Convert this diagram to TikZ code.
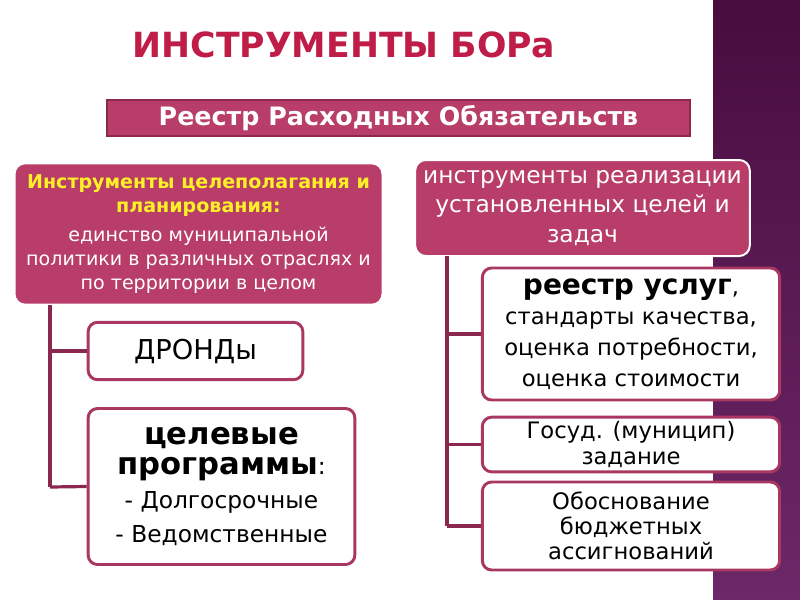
\documentclass[tikz,border=0pt]{standalone}
\usepackage{fontspec}
\setmainfont{DejaVu Sans}
\begin{document}
\begin{tikzpicture}[x=0.75pt,y=-0.75pt,
  mainbox/.style={draw=white,line width=1.5pt,fill=boxc,rounded corners=8pt,text=white,align=center,inner sep=0pt},
  childbox/.style={draw=borderc,line width=2.2pt,fill=white,rounded corners=7pt,align=center,inner sep=0pt},
  conn/.style={draw=linec,line width=2.4pt}]
\definecolor{boxc}{RGB}{184,61,104}
\definecolor{borderc}{RGB}{168,55,98}
\definecolor{linec}{RGB}{138,40,80}
\definecolor{titlec}{RGB}{192,28,72}
\definecolor{headc}{RGB}{255,240,40}
\definecolor{stripTop}{RGB}{72,12,62}
\definecolor{stripBot}{RGB}{108,40,104}
\useasboundingbox (0,0) rectangle (800,600);
\fill[white] (0,0) rectangle (800,600);
\shade[top color=stripTop,bottom color=stripBot] (713,0) rectangle (800,600);
\node[text=titlec,font=\bfseries\fontsize{26}{30}\selectfont] (title) at (344,45) {ИНСТРУМЕНТЫ БОРа};
\node[draw=linec,line width=1.5pt,fill=boxc,text=white,font=\bfseries\fontsize{19}{22}\selectfont,minimum width=437pt,minimum height=27pt,inner sep=0pt] (reg) at (398.5,118) {Реестр Расходных Обязательств};
\node[mainbox,minimum width=276pt,minimum height=106pt] (L) at (198.5,234) {};
\node[text=white,align=center,font=\fontsize{14.3}{18}\selectfont] (Ltext) at (198.5,234) {{\color{headc}\bfseries Инструменты целеполагания и}\\{\color{headc}\bfseries планирования:}\\[4pt]единство муниципальной\\политики в различных отраслях и\\по территории в целом};
\node[mainbox,minimum width=251pt,minimum height=72pt,font=\fontsize{17.5}{22}\selectfont] (R) at (582.5,208) {инструменты реализации\\установленных целей и\\задач};
\node[childbox,minimum width=161pt,minimum height=43pt,font=\fontsize{20.5}{24}\selectfont] (D) at (195.5,351) {ДРОНДы};
\node[childbox,minimum width=200pt,minimum height=117pt,font=\fontsize{17.5}{22}\selectfont] (P) at (221.5,486.5) {{\bfseries\fontsize{23}{27}\selectfont целевые}\\{\bfseries\fontsize{23}{27}\selectfont программы}:\\[4pt]- Долгосрочные\\[3pt]- Ведомственные};
\node[childbox,minimum width=223pt,minimum height=99pt,font=\fontsize{17}{23}\selectfont] (S) at (631,334) {{\bfseries\fontsize{21}{23}\selectfont реестр услуг},\\стандарты качества,\\оценка потребности,\\оценка стоимости};
\node[childbox,minimum width=223pt,minimum height=41pt,font=\fontsize{17}{19}\selectfont] (G) at (631,444.5) {Госуд. (муницип)\\задание};
\node[childbox,minimum width=223pt,minimum height=66pt,font=\fontsize{17}{19}\selectfont] (B) at (631,526) {Обоснование\\бюджетных\\ассигнований};
\coordinate (l0) at (50,305);
\coordinate (l1) at (50,351);
\coordinate (l2) at (50,487);
\coordinate (r0) at (447,256);
\coordinate (r1) at (447,334);
\coordinate (r2) at (447,444.5);
\coordinate (r3) at (447,526);
\draw[conn] (l0) -- (l2);
\draw[conn] (l1) -- (D.west);
\draw[conn] (l2) -- (P.west);
\draw[conn] (r0) -- (r3);
\draw[conn] (r1) -- (S.west);
\draw[conn] (r2) -- (G.west);
\draw[conn] (r3) -- (B.west);
\end{tikzpicture}
\end{document}
